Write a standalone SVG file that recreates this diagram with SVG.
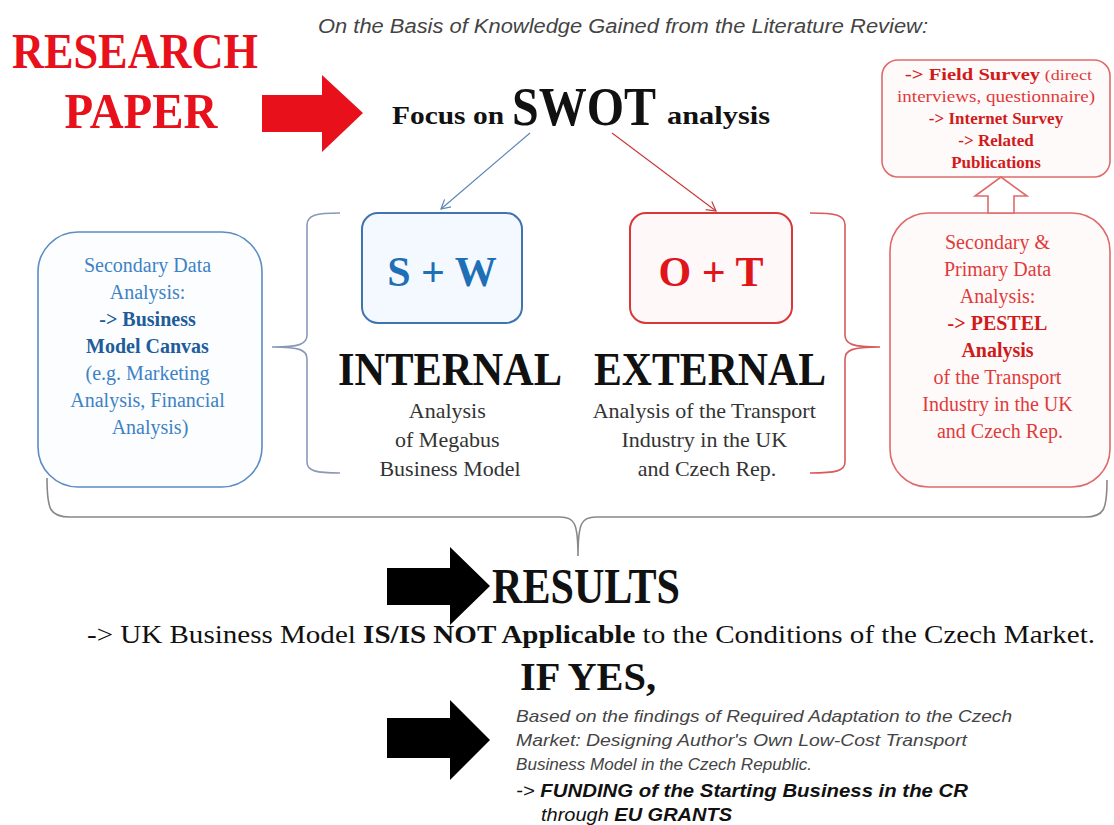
<svg xmlns="http://www.w3.org/2000/svg" width="1114" height="825" viewBox="0 0 1114 825">
  <style>
    .serif { font-family: "Liberation Serif", "DejaVu Serif", serif; }
    .ital { font-family: "Liberation Sans", "DejaVu Sans", sans-serif; font-style: italic; }
    .b { font-weight: bold; }
    .blue { fill: #3d82c4; }
    .blueb { fill: #1f5c99; font-weight: bold; }
    .red { fill: #df3a3a; }
    .redb { fill: #d11a1a; font-weight: bold; }
    .gray { fill: #333333; }
    .brace { fill: none; stroke-width: 1.6; }
  </style>
  <defs>
    <marker id="openBlue" markerWidth="12" markerHeight="12" refX="10" refY="6" orient="auto" markerUnits="userSpaceOnUse">
      <path d="M1,1 L10,6 L1,11" fill="none" stroke="#5b85b8" stroke-width="1.2"/>
    </marker>
    <marker id="openRed" markerWidth="12" markerHeight="12" refX="10" refY="6" orient="auto" markerUnits="userSpaceOnUse">
      <path d="M1,1 L10,6 L1,11" fill="none" stroke="#c83a3a" stroke-width="1.2"/>
    </marker>
  </defs>
  <rect width="1114" height="825" fill="#ffffff"/>

  <!-- header -->
  <g id="header">
    <text class="ital" x="318" y="33" font-size="20" fill="#444" textLength="610" lengthAdjust="spacingAndGlyphs">On the Basis of Knowledge Gained from the Literature Review:</text>
    <text class="serif b" x="135" y="68" font-size="50" fill="#e8101a" text-anchor="middle" textLength="246" lengthAdjust="spacingAndGlyphs">RESEARCH</text>
    <text class="serif b" x="141" y="128" font-size="50" fill="#e8101a" text-anchor="middle" textLength="153" lengthAdjust="spacingAndGlyphs">PAPER</text>
    <polygon points="262,95 322,95 322,75 363,113 322,152 322,132 262,132" fill="#e8101a"/>
  </g>

  <g id="swot">
    <text class="serif b" x="392" y="124" font-size="25" fill="#111" textLength="112" lengthAdjust="spacingAndGlyphs">Focus on</text>
    <text class="serif b" x="512" y="125" font-size="54" fill="#111" textLength="144" lengthAdjust="spacingAndGlyphs">SWOT</text>
    <text class="serif b" x="667" y="124" font-size="25" fill="#111" textLength="103" lengthAdjust="spacingAndGlyphs">analysis</text>
  </g>

  <!-- data collection methods -->
  <g id="survey">
    <rect x="882" y="60" width="228" height="117" rx="16" fill="#fffafa" stroke="#e06a6a" stroke-width="1.6"/>
    <text class="serif" x="905" y="80" font-size="17" textLength="187" lengthAdjust="spacingAndGlyphs"><tspan class="redb">-&gt; Field Survey</tspan><tspan class="red" font-size="15"> (direct</tspan></text>
    <text class="serif red" x="996" y="102" font-size="16" text-anchor="middle" textLength="198" lengthAdjust="spacingAndGlyphs">interviews, questionnaire)</text>
    <text class="serif redb" x="996" y="124" font-size="17" text-anchor="middle">-&gt; Internet Survey</text>
    <text class="serif redb" x="996" y="146" font-size="17" text-anchor="middle">-&gt; Related</text>
    <text class="serif redb" x="996" y="168" font-size="17" text-anchor="middle">Publications</text>
  </g>

  <g id="left-box">
    <rect x="38" y="232" width="224" height="255" rx="40" fill="#fbfdff" stroke="#5b8cc4" stroke-width="1.6"/>
    <text class="serif" x="150" y="272" font-size="20" text-anchor="middle">
      <tspan class="blue" x="150">Secondary Data</tspan>
      <tspan class="blue" x="150" dy="27">Analysis:</tspan>
      <tspan class="blueb" x="150" dy="27">-&gt; Business</tspan>
      <tspan class="blueb" x="150" dy="27">Model Canvas</tspan>
      <tspan class="blue" x="150" dy="27">(e.g. Marketing</tspan>
      <tspan class="blue" x="150" dy="27">Analysis, Financial</tspan>
      <tspan class="blue" x="150" dy="27">Analysis)</tspan>
    </text>
  </g>

  <g id="right-box">
    <rect x="890" y="213" width="220" height="274" rx="38" fill="#fffafa" stroke="#e06a6a" stroke-width="1.6"/>
    <text class="serif" x="1000" y="249" font-size="20" text-anchor="middle">
      <tspan class="red" x="1000">Secondary &amp;</tspan>
      <tspan class="red" x="1000" dy="27">Primary Data</tspan>
      <tspan class="red" x="1000" dy="27">Analysis:</tspan>
      <tspan class="redb" x="1000" dy="27">-&gt; PESTEL</tspan>
      <tspan class="redb" x="1000" dy="27">Analysis</tspan>
      <tspan class="red" x="1000" dy="27">of the Transport</tspan>
      <tspan class="red" x="1000" dy="27">Industry in the UK</tspan>
      <tspan class="red" x="1000" dy="27">and Czech Rep.</tspan>
    </text>
  </g>

  <g id="sw">
    <rect x="362" y="213" width="160" height="110" rx="16" fill="#f4f9ff" stroke="#3f74b0" stroke-width="2"/>
    <text class="serif b" x="442" y="286" font-size="42" fill="#1f6fb5" text-anchor="middle">S + W</text>
  </g>

  <g id="ot">
    <rect x="630" y="213" width="162" height="110" rx="16" fill="#fff8f8" stroke="#d9383a" stroke-width="2"/>
    <text class="serif b" x="711" y="286" font-size="42" fill="#e0141b" text-anchor="middle">O + T</text>
  </g>

  <g id="internal">
    <text class="serif b" x="450" y="385" font-size="46" fill="#111" text-anchor="middle" textLength="224" lengthAdjust="spacingAndGlyphs">INTERNAL</text>
    <text class="serif gray" x="450" y="418" font-size="22" text-anchor="middle">
      <tspan x="450">Analysis</tspan>
      <tspan x="450" dy="29">of Megabus</tspan>
      <tspan x="450" dy="29">Business Model</tspan>
    </text>
  </g>

  <g id="external">
    <text class="serif b" x="710" y="385" font-size="46" fill="#111" text-anchor="middle" textLength="232" lengthAdjust="spacingAndGlyphs">EXTERNAL</text>
    <text class="serif gray" x="707" y="418" font-size="22" text-anchor="middle">
      <tspan x="707">Analysis of the Transport</tspan>
      <tspan x="707" dy="29">Industry in the UK</tspan>
      <tspan x="707" dy="29">and Czech Rep.</tspan>
    </text>
  </g>

  <g id="results">
    <polygon points="387,568 450,568 450,547 490,586 450,625 450,605 387,605" fill="#000"/>
    <text class="serif b" x="492" y="603" font-size="50" fill="#111" textLength="188" lengthAdjust="spacingAndGlyphs">RESULTS</text>
    <text class="serif" x="87" y="643" font-size="25" fill="#111" textLength="1008" lengthAdjust="spacingAndGlyphs">-&gt; UK Business Model <tspan font-weight="bold">IS/IS NOT Applicable</tspan> to the Conditions of the Czech Market.</text>
    <text class="serif b" x="520" y="690" font-size="40" fill="#111" textLength="136" lengthAdjust="spacingAndGlyphs">IF YES,</text>
  </g>

  <g id="outcome">
    <polygon points="387,718 450,718 450,700 490,740 450,780 450,758 387,758" fill="#000"/>
    <text class="ital" font-size="17" fill="#444">
      <tspan x="516" y="722" textLength="496" lengthAdjust="spacingAndGlyphs">Based on the findings  of Required Adaptation to the Czech</tspan>
      <tspan x="516" y="746" textLength="451" lengthAdjust="spacingAndGlyphs">Market: Designing Author's Own Low-Cost Transport</tspan>
      <tspan x="516" y="770" textLength="296" lengthAdjust="spacingAndGlyphs">Business Model in the Czech Republic.</tspan>
    </text>
    <text class="ital" font-size="19" fill="#111" x="516" y="797" textLength="452" lengthAdjust="spacingAndGlyphs">-&gt; <tspan font-weight="bold">FUNDING of the Starting Business in  the CR</tspan></text>
    <text class="ital" font-size="19" fill="#111" x="541" y="821" textLength="191" lengthAdjust="spacingAndGlyphs">through <tspan font-weight="bold">EU GRANTS</tspan></text>
  </g>

  <g id="connectors">
    <line x1="530" y1="133" x2="441" y2="209" stroke="#5b85b8" stroke-width="1.2" marker-end="url(#openBlue)"/>
    <line x1="612" y1="133" x2="716" y2="211" stroke="#c83a3a" stroke-width="1.2" marker-end="url(#openRed)"/>
    <!-- hollow arrow from analysis box up to survey box -->
    <polygon points="988,213 988,196 975,196 1001,177 1027,196 1014,196 1014,213" fill="#ffffff" stroke="#e06a6a" stroke-width="1.6"/>
    <!-- grouping braces -->
    <path class="brace" stroke="#8a98b8" d="M340,213 C316,213 307,215 307,225 L307,335 C307,344 300,347 272,347 C300,347 307,350 307,359 L307,462 C307,471 316,473 340,473"/>
    <path class="brace" stroke="#d85a5a" d="M810,213 C836,213 845,215 845,225 L845,335 C845,344 852,347 880,347 C852,347 845,350 845,359 L845,462 C845,471 836,473 810,473"/>
    <path class="brace" stroke="#888" d="M47,478 C47,510 50,517 70,517 L560,517 C574,517 578,522 578,556 C578,522 582,517 596,517 L1085,517 C1104,517 1107,510 1107,480"/>
  </g>
</svg>
